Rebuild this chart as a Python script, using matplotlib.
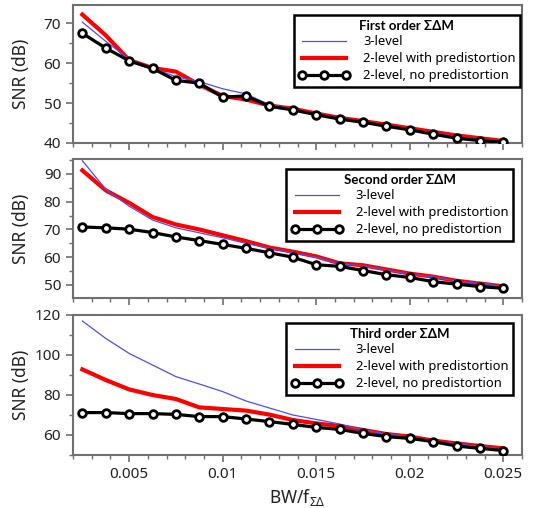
import numpy as np
import matplotlib
matplotlib.use("Agg")
import matplotlib.pyplot as plt
from matplotlib.ticker import MultipleLocator

plt.rcParams['font.family'] = ['Noto Sans', 'DejaVu Sans']
plt.rcParams['mathtext.fontset'] = 'custom'
plt.rcParams['mathtext.rm'] = 'Noto Sans'
plt.rcParams['mathtext.it'] = 'Noto Sans'

bw = [0.0025, 0.00375, 0.005, 0.00625, 0.0075, 0.00875, 0.01, 0.01125, 0.0125,
      0.01375, 0.015, 0.01625, 0.0175, 0.01875, 0.02, 0.02125, 0.0225, 0.02375, 0.025]

# First order
o1_3level = [70.3, 65.5, 61.0, 58.8, 56.6, 55.4, 53.6, 52.3, 49.6, 48.5, 47.3, 46.2,
             45.4, 44.4, 43.5, 42.5, 41.6, 40.9, 40.4]
o1_pre = [72.2, 67.0, 60.8, 58.8, 57.9, 54.6, 51.8, 50.9, 49.4, 48.6, 47.4, 46.3,
          45.5, 44.6, 43.7, 42.8, 41.9, 41.2, 40.5]
o1_nopre = [67.5, 63.8, 60.6, 58.7, 55.7, 55.0, 51.5, 51.8, 49.2, 48.3, 47.1, 46.0,
            45.2, 44.2, 43.3, 42.2, 41.2, 40.6, 40.2]

# Second order
o2_3level = [94.8, 84.5, 78.4, 73.4, 70.6, 68.8, 67.0, 65.0, 63.2, 61.6, 60.0, 57.6,
             56.9, 55.4, 53.9, 52.9, 51.4, 50.5, 49.5]
o2_pre = [91.3, 84.1, 79.6, 74.5, 71.8, 70.0, 67.9, 65.8, 63.5, 62.0, 60.3, 57.8,
          57.1, 55.6, 54.1, 53.0, 51.5, 50.5, 49.5]
o2_nopre = [70.9, 70.6, 70.1, 68.9, 67.3, 66.0, 64.6, 63.2, 61.6, 60.0, 57.3, 56.7,
            55.2, 53.7, 52.7, 51.2, 50.3, 49.4, 48.8]

# Third order
o3_3level = [117.0, 108.3, 100.8, 95.0, 89.2, 85.5, 81.7, 77.0, 73.5, 70.0, 67.8, 65.5,
             62.5, 60.5, 59.0, 57.0, 55.5, 54.3, 53.0]
o3_pre = [92.8, 87.5, 82.8, 80.0, 78.0, 73.8, 73.0, 72.2, 70.2, 67.5, 65.8, 64.5,
          62.5, 60.5, 59.2, 57.2, 55.8, 54.5, 53.3]
o3_nopre = [71.2, 71.2, 70.7, 70.7, 70.3, 69.2, 69.2, 68.0, 66.7, 65.3, 63.8, 62.8,
            60.8, 59.2, 58.3, 56.7, 54.5, 53.3, 52.2]

titles = ['First order \u03a3\u0394M', 'Second order \u03a3\u0394M', 'Third order \u03a3\u0394M']
labels = ['3-level', '2-level with predistortion', '2-level, no predistortion']

W, H = 541, 508
fig = plt.figure(figsize=(W / 100, H / 100), dpi=100)

panels = [
    dict(top=5, bot=143, ylim=(40, 74.6), minor=5, yt=[40, 50, 60, 70],
         data=(o1_3level, o1_pre, o1_nopre), leg=(0.9955, 0.9275)),
    dict(top=159, bot=298, ylim=(45.3, 95.4), minor=5, yt=[50, 60, 70, 80, 90],
         data=(o2_3level, o2_pre, o2_nopre), leg=(0.979, 0.928)),
    dict(top=315, bot=455, ylim=(50, 120), minor=10, yt=[60, 80, 100, 120],
         data=(o3_3level, o3_pre, o3_nopre), leg=(0.979, 0.943)),
]

left, right = 73, 522
axes = []
for i, p in enumerate(panels):
    ax = fig.add_axes([left / W, 1 - p['bot'] / H, (right - left) / W, (p['bot'] - p['top']) / H])
    axes.append(ax)
    d3, dp, dn = p['data']
    ax.plot(bw, d3, color='#4d4dff', lw=0.9, label=labels[0], zorder=3)
    ax.plot(bw, dp, color='#ff0000', lw=3.0, label=labels[1], zorder=2)
    ax.plot(bw, dn, color='black', lw=2.3, marker='o', ms=5.5, mfc='white', mec='black',
            mew=2.0, label=labels[2], zorder=4)
    ax.set_xlim(0.002, 0.026)
    ax.set_ylim(*p['ylim'])
    ax.set_yticks(p['yt'])
    ax.yaxis.set_minor_locator(MultipleLocator(p['minor']))
    ax.xaxis.set_minor_locator(MultipleLocator(0.001))
    ax.set_xticks([0.005, 0.01, 0.015, 0.02, 0.025])
    if i < 2:
        ax.tick_params(axis='x', labelbottom=False)
    else:
        ax.set_xticklabels(['0.005', '0.01', '0.015', '0.02', '0.025'])
        ax.set_xlabel(r'BW/f$_{\Sigma\Delta}$', fontsize=12.5, color='#222222')
    for s in ax.spines.values():
        s.set_color('#707070')
        s.set_linewidth(1.5)
    ax.tick_params(which='major', direction='out', length=5, width=1.2, color='#707070',
                   labelsize=11, labelcolor='#222222')
    ax.tick_params(which='minor', direction='out', length=3, width=1.0, color='#707070')
    ax.set_ylabel('SNR (dB)', fontsize=12.5, color='#222222')
    ax.yaxis.set_label_coords(-0.095, 0.5)
    leg = ax.legend(loc='upper right', bbox_to_anchor=p['leg'], title=titles[i],
                    fontsize=9.3, numpoints=3, handlelength=4.0,
                    title_fontproperties=dict(family=['Lato', 'DejaVu Sans'], weight='bold', size=9.5),
                    fancybox=False, edgecolor='black', framealpha=1, borderaxespad=0,
                    borderpad=0.35, labelspacing=0.3, handletextpad=1.0)
    leg.get_frame().set_linewidth(1.8)

axes[2].xaxis.set_label_coords(0.5, -0.225)

fig.savefig('out.png', dpi=100)
